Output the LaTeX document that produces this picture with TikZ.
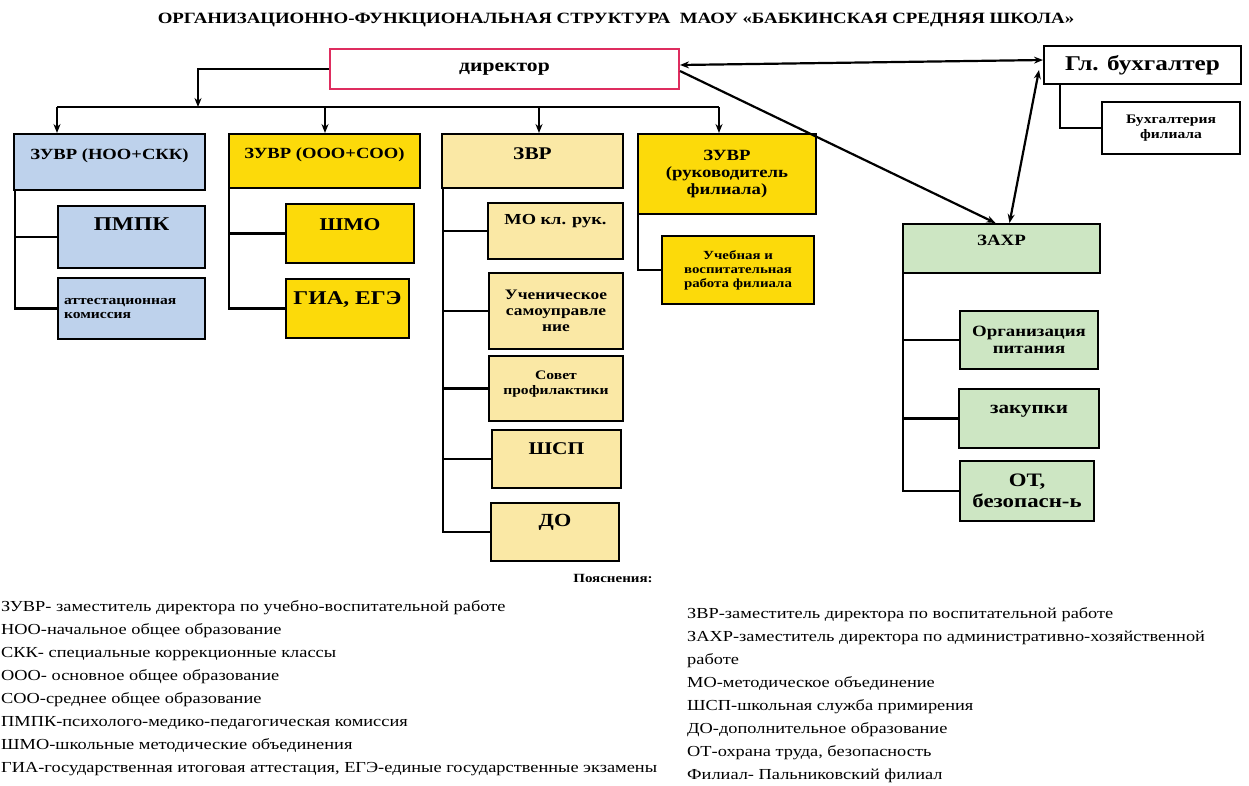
\documentclass[tikz,border=0pt]{standalone}
\usepackage{fontspec}
\setmainfont{Liberation Serif}[FakeStretch=1.2]
\usetikzlibrary{arrows.meta}
\definecolor{cblue}{RGB}{190,210,236}
\definecolor{cgold}{RGB}{252,218,10}
\definecolor{ctan}{RGB}{250,232,165}
\definecolor{cgreen}{RGB}{205,230,195}
\definecolor{cred}{RGB}{222,45,95}
\newcommand{\fs}[1]{\fontsize{#1}{#1}\selectfont\setlength{\baselineskip}{1.12\baselineskip}}
\begin{document}
\begin{tikzpicture}[x=1pt,y=-1pt,
  box/.style={draw=black, line width=2pt, inner sep=2pt, align=center, anchor=north west},
  up/.style={text depth=#1},
  ln/.style={line width=2.5pt},
  arr/.style={line width=2.2pt, -{Stealth[length=9pt,width=7pt]}},
  arrb/.style={line width=2.2pt, {Stealth[length=9pt,width=7pt]}-{Stealth[length=9pt,width=7pt]}},
  lg/.style={anchor=base west, inner sep=0pt, font=\fs{15.3}}]
\useasboundingbox (0,0) rectangle (1249,785);
\fill[white] (0,0) rectangle (1249,785);

% title
\node[font=\bfseries\fs{15.7}] (title) at (616,20) {ОРГАНИЗАЦИОННО-ФУНКЦИОНАЛЬНАЯ СТРУКТУРА \ МАОУ «БАБКИНСКАЯ СРЕДНЯЯ ШКОЛА»};

% top level
\node[box, fill=white, draw=cred, minimum width=349, minimum height=40, font=\bfseries\fs{18}] (dir) at (329,48) {директор};
\node[box, fill=white, minimum width=197, minimum height=38, font=\bfseries\fs{21}] (glb) at (1043,45) {Гл. бухгалтер};
\node[box, fill=white, minimum width=138, minimum height=52, font=\bfseries\fs{13}] (buhf) at (1101,101) {Бухгалтерия\\филиала};

% column 1
\node[box, fill=cblue, up=15pt, minimum width=191, minimum height=56, font=\bfseries\fs{15.5}] (z1) at (13,133) {ЗУВР (НОО+СКК)};
\node[box, fill=cblue, up=25pt, minimum width=147, minimum height=62, font=\bfseries\fs{19.5}] (pmpk) at (57,205) {ПМПК};
\node[box, fill=cblue, minimum width=147, minimum height=61, font=\bfseries\fs{13}, align=left, text width=135] (att) at (57,277) {аттестационная\\комиссия};

% column 2
\node[box, fill=cgold, up=15pt, minimum width=191, minimum height=54, font=\bfseries\fs{15.5}] (z2) at (228,133) {ЗУВР (ООО+СОО)};
\node[box, fill=cgold, up=18pt, minimum width=128, minimum height=59, font=\bfseries\fs{18}] (shmo) at (285,203) {ШМО};
\node[box, fill=cgold, up=20pt, minimum width=123, minimum height=59, font=\bfseries\fs{19.5}] (gia) at (285,278) {ГИА, ЕГЭ};

% column 3
\node[box, fill=ctan, up=14pt, minimum width=181, minimum height=54, font=\bfseries\fs{17.8}] (zvr) at (441,133) {ЗВР};
\node[box, fill=ctan, up=24pt, minimum width=135, minimum height=56, font=\bfseries\fs{15.3}] (mo) at (487,202) {МО кл. рук.};
\node[box, fill=ctan, minimum width=134, minimum height=76, font=\bfseries\fs{14.5}] (uch) at (488,272) {Ученическое\\самоуправле\\ние};
\node[box, fill=ctan, up=12pt, minimum width=134, minimum height=65, font=\bfseries\fs{13}] (sov) at (488,355) {Совет\\профилактики};
\node[box, fill=ctan, up=20pt, minimum width=129, minimum height=58, font=\bfseries\fs{17.9}] (shsp) at (491,429) {ШСП};
\node[box, fill=ctan, up=24pt, minimum width=128, minimum height=58, font=\bfseries\fs{18.5}] (do) at (490,502) {ДО};

% column 4
\node[box, fill=cgold, minimum width=178, minimum height=80, font=\bfseries\fs{15.6}] (z4) at (637,133) {ЗУВР\\(руководитель\\филиала)};
\node[box, fill=cgold, minimum width=152, minimum height=68, font=\bfseries\fs{12.4}] (ucheb) at (661,235) {Учебная и\\воспитательная\\работа филиала};

% ZAHR
\node[box, fill=cgreen, up=17pt, minimum width=197, minimum height=49, font=\bfseries\fs{15.7}] (zahr) at (902,223) {ЗАХР};
\node[box, fill=cgreen, minimum width=138, minimum height=58, font=\bfseries\fs{15.7}] (pit) at (959,310) {Организация\\питания};
\node[box, fill=cgreen, up=18pt, minimum width=140, minimum height=59, font=\bfseries\fs{17.6}] (zak) at (958,388) {закупки};
\node[box, fill=cgreen, minimum width=134, minimum height=60, font=\bfseries\fs{19}] (ot) at (959,460) {ОТ,\\безопасн-ь};

% bus
\coordinate (b0) at (198,107);
\coordinate (bl) at (57,107);
\coordinate (b2) at (325,107);
\coordinate (b3) at (539,107);
\coordinate (br) at (719,107);
\draw[arr] (dir.west) -| (b0);
\draw[ln] (bl) -- (br);
\draw[arr] (bl) -- (bl |- z1.north);
\draw[arr] (b2) -- (b2 |- z2.north);
\draw[arr] (b3) -- (b3 |- zvr.north);
\draw[arr] (br) -- (br |- z4.north);

% diagonal / horizontal arrows
\draw[arrb] ([yshift=4pt]dir.east) -- ([yshift=5pt]glb.west);
\draw[arr] ([yshift=-2pt]dir.east) -- ([xshift=-6pt]zahr.north);
\draw[arrb] ([shift={(-4,-15)}]glb.south west) -- ([xshift=8pt]zahr.north);

% elbows
\draw[ln] ([xshift=2pt]z1.south west) |- (pmpk.west);
\draw[ln] ([xshift=2pt]z1.south west) |- (att.west);
\draw[ln] ([xshift=1pt]z2.south west) |- (shmo.west);
\draw[ln] ([xshift=1pt]z2.south west) |- (gia.west);
\draw[ln] ([xshift=2pt]zvr.south west) |- (mo.west);
\draw[ln] ([xshift=2pt]zvr.south west) |- (uch.west);
\draw[ln] ([xshift=2pt]zvr.south west) |- (sov.west);
\draw[ln] ([xshift=2pt]zvr.south west) |- (shsp.west);
\draw[ln] ([xshift=2pt]zvr.south west) |- (do.west);
\draw[ln] ([xshift=1pt]z4.south west) |- (ucheb.west);
\draw[ln] ([xshift=1pt]zahr.south west) |- (pit.west);
\draw[ln] ([xshift=1pt]zahr.south west) |- (zak.west);
\draw[ln] ([xshift=1pt]zahr.south west) |- (ot.west);
\draw[ln] ([xshift=17pt]glb.south west) |- (buhf.west);

% legend
\node[font=\bfseries\fs{12.5}] (poy) at (613,578) {Пояснения:};
\node[lg] (l1) at (1,611) {ЗУВР- заместитель директора по учебно-воспитательной работе};
\node[lg] (l2) at (1,634) {НОО-начальное общее образование};
\node[lg] (l3) at (1,657) {СКК- специальные коррекционные классы};
\node[lg] (l4) at (1,680) {ООО- основное общее образование};
\node[lg] (l5) at (1,703) {СОО-среднее общее образование};
\node[lg] (l6) at (1,726) {ПМПК-психолого-медико-педагогическая комиссия};
\node[lg] (l7) at (1,749) {ШМО-школьные методические объединения};
\node[lg] (l8) at (1,772) {ГИА-государственная итоговая аттестация, ЕГЭ-единые государственные экзамены};

\node[lg] (r1) at (687,618) {ЗВР-заместитель директора по воспитательной работе};
\node[lg] (r2) at (687,641) {ЗАХР-заместитель директора по административно-хозяйственной};
\node[lg] (r3) at (687,664) {работе};
\node[lg] (r4) at (687,687) {МО-методическое объединение};
\node[lg] (r5) at (687,710) {ШСП-школьная служба примирения};
\node[lg] (r6) at (687,733) {ДО-дополнительное образование};
\node[lg] (r7) at (687,756) {ОТ-охрана труда, безопасность};
\node[lg] (r8) at (687,779) {Филиал- Пальниковский филиал};
\end{tikzpicture}
\end{document}
